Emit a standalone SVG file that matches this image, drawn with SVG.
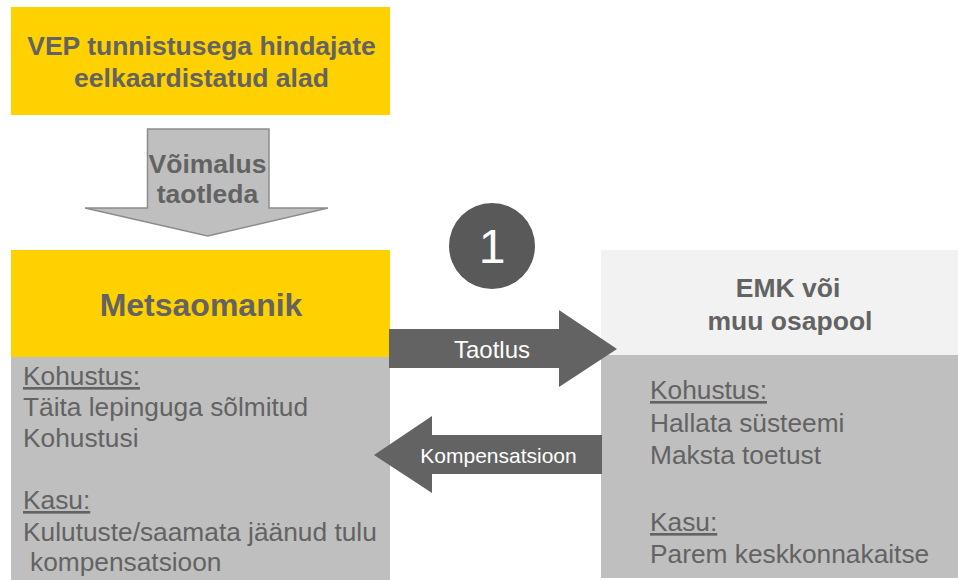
<svg xmlns="http://www.w3.org/2000/svg" width="958" height="580" viewBox="0 0 958 580">
<style>
.t{font-family:"Liberation Sans",Arial,sans-serif;fill:#636363}
.b{font-weight:bold}
.w{fill:#ffffff}
.c{text-anchor:middle}
.yel{fill:#FFD100}
.gry{fill:#BFBFBF}
.lt{fill:#F2F2F2}
.arr{fill:#636363}
.body{font-size:26.3px}
.hd{font-size:26.5px}
</style>
<rect width="958" height="580" fill="#ffffff"/>
<g id="node-vep">
<rect class="yel" x="11" y="7" width="379" height="108"/>
<text class="t b c hd" x="201.5" y="55">VEP tunnistusega hindajate</text>
<text class="t b c hd" x="201.5" y="86.5">eelkaardistatud alad</text>
</g>
<g id="node-metsaomanik">
<rect class="yel" x="11" y="250" width="379" height="107"/>
<rect class="gry" x="11" y="357" width="379" height="223"/>
<text class="t b c" font-size="32" x="201" y="316">Metsaomanik</text>
<g class="t body">
<text x="23" y="385" text-decoration="underline">Kohustus:</text>
<text x="23" y="416">Täita lepinguga sõlmitud</text>
<text x="23" y="447">Kohustusi</text>
<text x="23" y="509" text-decoration="underline">Kasu:</text>
<text x="23" y="541">Kulutuste/saamata jäänud tulu</text>
<text x="30" y="571">kompensatsioon</text>
</g>
</g>
<g id="node-emk">
<rect class="lt" x="601" y="250" width="357" height="105"/>
<rect class="gry" x="601" y="355" width="357" height="223"/>
<text class="t b c hd" x="788" y="297">EMK või</text>
<text class="t b c hd" x="790" y="330">muu osapool</text>
<g class="t body">
<text x="650" y="399" text-decoration="underline">Kohustus:</text>
<text x="650" y="432">Hallata süsteemi</text>
<text x="650" y="464">Maksta toetust</text>
<text x="650" y="531" text-decoration="underline">Kasu:</text>
<text x="650" y="563">Parem keskkonnakaitse</text>
</g>
</g>
<g id="badge-1">
<circle cx="492" cy="246" r="43" fill="#595959"/>
<text class="t w c" font-size="48" x="492" y="263">1</text>
</g>
<g id="connectors">
<g id="arrow-voimalus">
<polygon points="147.5,129 269,129 269,208 328,208 207.7,236 85,208 147.5,208" fill="#BFBFBF" stroke="#8C8C8C" stroke-width="1.5"/>
<text class="t b c" font-size="26.5" x="207.5" y="173">Võimalus</text>
<text class="t b c" font-size="26.5" x="207.5" y="203">taotleda</text>
</g>
<g id="arrow-taotlus">
<polygon class="arr" points="389,329 559,329 559,310 617,349 559,387 559,368 389,368"/>
<text class="t w c" font-size="24" x="492" y="358">Taotlus</text>
</g>
<g id="arrow-kompensatsioon">
<polygon class="arr" points="602,435 432,435 432,416 374,455 432,493 432,474 602,474"/>
<text class="t w c" font-size="21" x="498.5" y="463">Kompensatsioon</text>
</g>
</g>
</svg>
